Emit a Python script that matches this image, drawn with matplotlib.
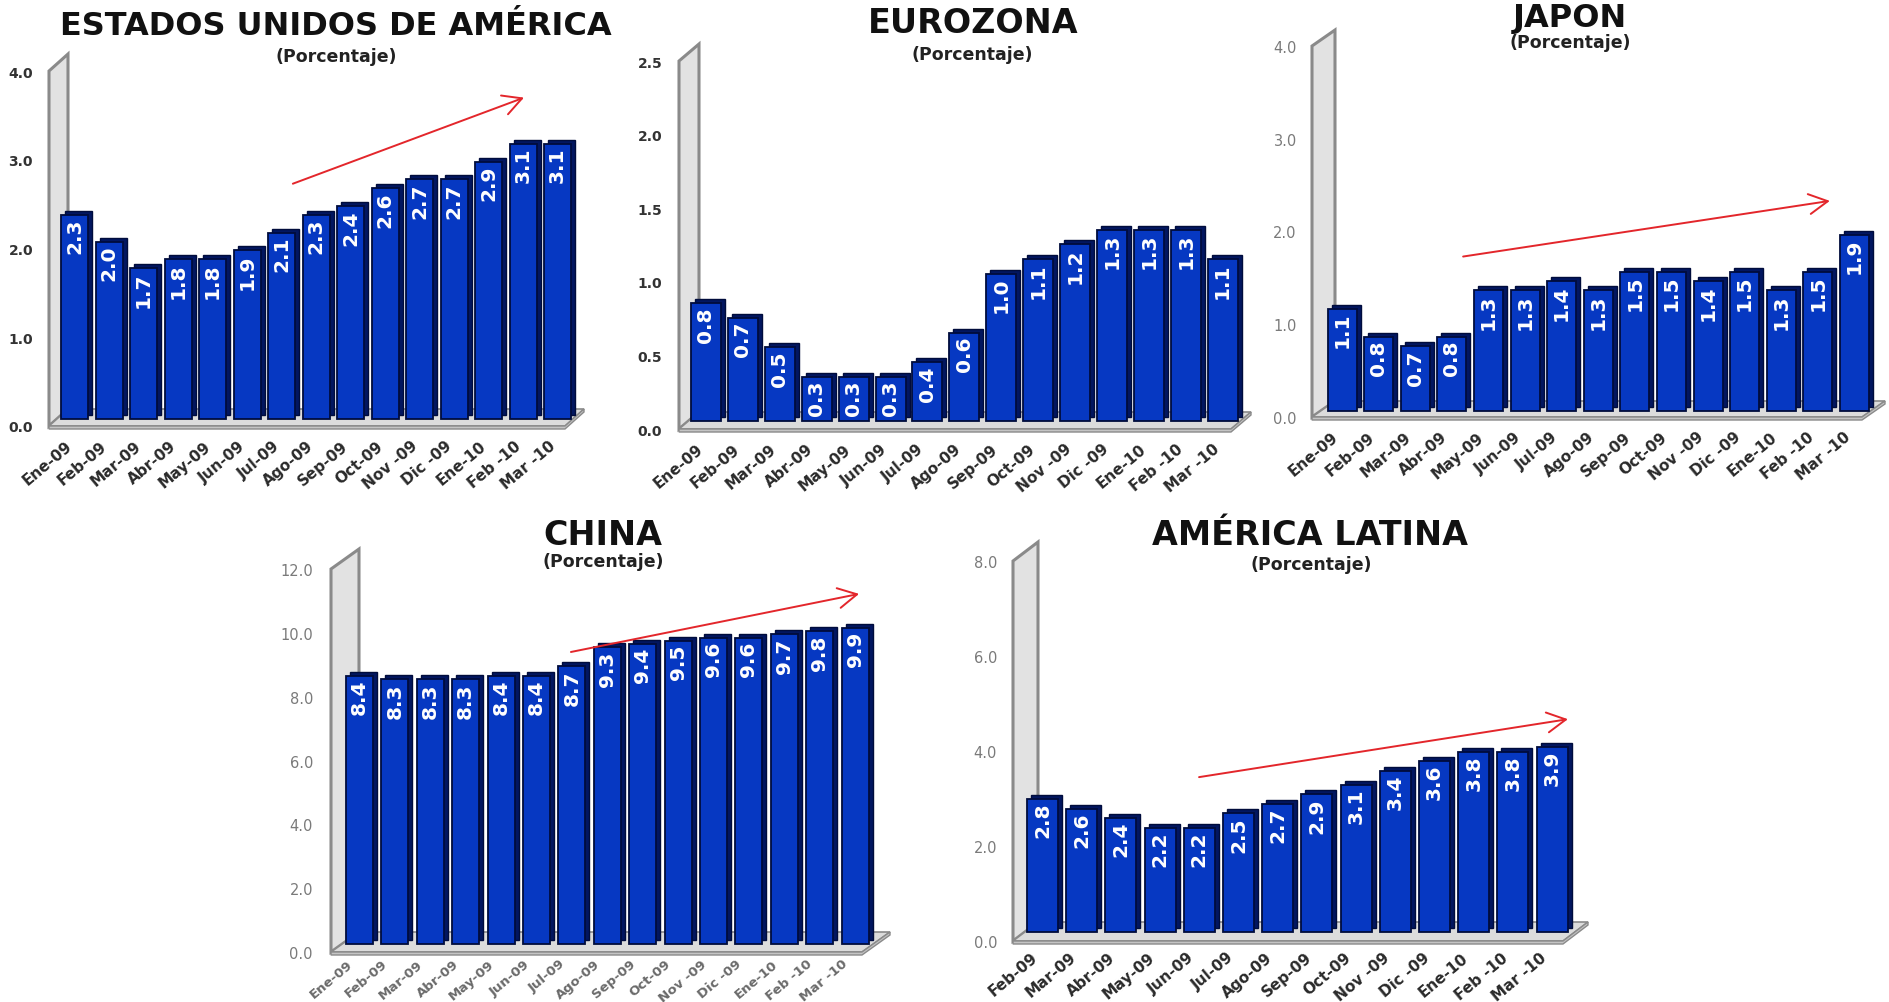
import numpy as np
import matplotlib
matplotlib.use("Agg")
import matplotlib.pyplot as plt
from matplotlib.patches import Polygon
from matplotlib.transforms import ScaledTranslation, Affine2D

plt.rcParams["font.family"] = ["DejaVu Sans"]

# ---- data -----------------------------------------------------------------
months_full = ["Ene-09", "Feb-09", "Mar-09", "Abr-09", "May-09", "Jun-09",
               "Jul-09", "Ago-09", "Sep-09", "Oct-09", "Nov -09", "Dic -09",
               "Ene-10", "Feb -10", "Mar -10"]
months_latam = months_full[1:]

usa = [2.3, 2.0, 1.7, 1.8, 1.8, 1.9, 2.1, 2.3, 2.4, 2.6, 2.7, 2.7, 2.9, 3.1, 3.1]
eurozona = [0.8, 0.7, 0.5, 0.3, 0.3, 0.3, 0.4, 0.6, 1.0, 1.1, 1.2, 1.3, 1.3, 1.3, 1.1]
japon = [1.1, 0.8, 0.7, 0.8, 1.3, 1.3, 1.4, 1.3, 1.5, 1.5, 1.4, 1.5, 1.3, 1.5, 1.9]
china = [8.4, 8.3, 8.3, 8.3, 8.4, 8.4, 8.7, 9.3, 9.4, 9.5, 9.6, 9.6, 9.7, 9.8, 9.9]
latam = [2.8, 2.6, 2.4, 2.2, 2.2, 2.5, 2.7, 2.9, 3.1, 3.4, 3.6, 3.8, 3.8, 3.9]

titles = ["ESTADOS UNIDOS DE AMÉRICA", "EUROZONA", "JAPON", "CHINA", "AMÉRICA LATINA"]
subtitle = "(Porcentaje)"

# ---- figure / styling -----------------------------------------------------
W, H, DPI = 1889, 1003, 100
FRONT = "#0638c2"
SIDE = "#021660"
EDGE = "#000c3c"
WALL = "#e2e2e2"
WALL_EDGE = "#8a8a8a"
ARROW = "#e3262b"

fig = plt.figure(figsize=(W / DPI, H / DPI), dpi=DPI)
fig.patch.set_facecolor("white")
# pixel coordinates, origin top-left
px = Affine2D().scale(1 / W, -1 / H).translate(0, 1) + fig.transFigure


def shift(dx, dy):
    return ScaledTranslation(dx / DPI, dy / DPI, fig.dpi_scale_trans)


def panel(title, values, labels, ymax, ystep, frame, c0, pitch, bw, depth, boff,
          title_xy, title_size, sub_xy, ylab, xlab, ypad, xpad, arrow=None):
    L, R, B, T = frame
    dx, dy = depth
    bx, by = boff
    n = len(values)

    ax = fig.add_axes([L / W, 1 - B / H, (R - L) / W, (B - T) / H])
    ax.patch.set_visible(False)
    for s in ax.spines.values():
        s.set_visible(False)

    # side wall and floor slab
    fig.add_artist(Polygon([(L, B), (L, T), (L + dx, T - dy), (L + dx, B - dy)],
                           closed=True, transform=px, fc=WALL, ec=WALL_EDGE,
                           lw=2.2, zorder=-2))
    fig.add_artist(Polygon([(L, B), (R, B), (R + dx, B - dy), (L + dx, B - dy)],
                           closed=True, transform=px, fc="#dcdcdc", ec=WALL_EDGE,
                           lw=1.2, zorder=-2))
    fig.add_artist(Polygon([(L, B), (R, B), (R + dx, B - dy), (R + dx, B - dy + 3),
                            (R, B + 3), (L, B + 3)],
                           closed=True, transform=px, fc="#c4c4c4", ec=WALL_EDGE,
                           lw=1.0, zorder=-2))

    xs = np.arange(n)
    wdata = (bw - 4) / pitch
    # depth faces behind, front faces on top
    ax.bar(xs, values, width=wdata, color=SIDE, edgecolor=EDGE, linewidth=1.0,
           transform=ax.transData + shift(bx + 4, by + 4), clip_on=False, zorder=2)
    ax.bar(xs, values, width=wdata, color=FRONT, edgecolor=EDGE, linewidth=1.3,
           transform=ax.transData + shift(bx, by), clip_on=False, zorder=3)
    for i, v in enumerate(values):
        ax.text(i, v, f"{v:.1f}", rotation=90, ha="center", va="top",
                color="white", fontsize=14.5, fontweight="bold",
                transform=ax.transData + shift(bx, by - 3), zorder=4, clip_on=False)

    ax.set_xlim((L - (c0 - bx)) / pitch, (R - (c0 - bx)) / pitch)
    ax.set_ylim(0, ymax)

    ticks = np.arange(0, ymax + 1e-9, ystep)
    ax.set_yticks(ticks)
    ax.set_yticklabels([f"{t:.1f}" for t in ticks], **ylab)
    ax.tick_params(axis="y", length=0, pad=ypad)
    ax.set_xticks(xs)
    ax.set_xticklabels(labels, rotation=40, ha="right", va="top",
                       rotation_mode="anchor", fontweight="bold", **xlab)
    ax.tick_params(axis="x", length=0, pad=xpad)

    fig.text(title_xy[0], title_xy[1], title, transform=px, ha="center",
             va="baseline", fontsize=title_size, fontweight="bold", color="#111111")
    fig.text(sub_xy[0], sub_xy[1], subtitle, transform=px, ha="center",
             va="center", fontsize=12.5, fontweight="bold", color="#222222")

    if arrow is not None:
        (x0, y0), (x1, y1) = arrow
        ax.annotate("", xy=(x1, y1), xytext=(x0, y0), annotation_clip=False,
                    arrowprops=dict(arrowstyle="->,head_length=0.75,head_width=0.4",
                                    color=ARROW, lw=1.4, mutation_scale=18,
                                    shrinkA=0, shrinkB=0))
    return ax


dark_ticks = dict(fontsize=10, fontweight="bold", color="#333333")
gray_ticks = dict(fontsize=10.5, fontweight="normal", color="#7a7a7a")
xlab_dark = dict(fontsize=11, color="#2a2a2a")

panel(titles[0], usa, months_full, 4.0, 1.0, (49, 565, 427, 72),
      74.5, 34.5, 31, (19, 17), (9, 7), (336, 35), 23, (336, 57),
      dark_ticks, xlab_dark, 11.5, 8.5, arrow=((6.59, 2.73), (13.29, 3.70)))

panel(titles[1], eurozona, months_full, 2.5, 0.5, (679, 1231, 430, 62),
      706, 36.9, 34, (20, 17), (10, 8), (973, 33), 24, (972, 55),
      dark_ticks, xlab_dark, 12, 8.5)

panel(titles[2], japon, months_full, 4.0, 1.0, (1312, 1862, 418, 47),
      1342, 36.6, 33, (23, 16), (11, 6), (1570, 27), 23, (1570, 43),
      gray_ticks, xlab_dark, 11, 8.5, arrow=((3.61, 1.73), (13.63, 2.33)))

panel(titles[3], china, months_full, 12.0, 2.0, (331, 862, 953, 570),
      359.5, 35.4, 31, (28, 20), (13, 8), (603, 545), 24, (603, 562),
      gray_ticks, dict(fontsize=9.5, color="#6a6a6a"), 13, 3.5,
      arrow=((6.34, 9.40), (14.48, 11.22)))

panel(titles[4], latam, months_latam, 8.0, 2.0, (1013, 1563, 942, 562),
      1042.5, 39.2, 35, (25, 19), (12, 9), (1310, 545), 24, (1311, 565),
      gray_ticks, xlab_dark, 11.5, 6, arrow=((4.30, 3.45), (13.71, 4.67)))

fig.savefig("out.png", dpi=DPI)
